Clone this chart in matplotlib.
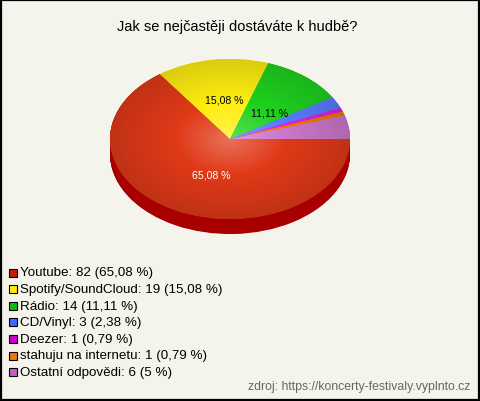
import numpy as np
import matplotlib
matplotlib.use("Agg")
import matplotlib.pyplot as plt
from matplotlib.colors import to_rgb
from matplotlib.patches import Rectangle

plt.rcParams["font.family"] = ["Liberation Sans", "DejaVu Sans"]

title = "Jak se nejčastěji dostáváte k hudbě?"
labels = ["Youtube", "Spotify/SoundCloud", "Rádio", "CD/Vinyl", "Deezer",
          "stahuju na internetu", "Ostatní odpovědi"]
counts = [82, 19, 14, 3, 1, 1, 6]
pct_text = ["65,08 %", "15,08 %", "11,11 %", "2,38 %", "0,79 %", "0,79 %", "5 %"]
top_colors = ["#E03A18", "#FFEE11", "#1FD21F", "#5A7CFF", "#DD22DD", "#EE7A00", "#CC77CC"]
side_colors = ["#A80000", "#C8B800", "#109010", "#3050C0", "#A010A0", "#B05800", "#995099"]
legend_colors = ["#C02000", "#FFEE00", "#10BB10", "#4466FF", "#CC00CC", "#EE7700", "#BB66BB"]
source = "zdroj: https://koncerty-festivaly.vyplnto.cz"

W, H = 480, 402
bg = "#F4F4EC"
fig = plt.figure(figsize=(W / 100, H / 100), dpi=100, facecolor=bg)

# pie axes: ellipse 240x160 px centred at (230,140), 15 px deep
depth = 15 / 80
ax = fig.add_axes([110 / W, 1 - 235 / H, 240 / W, 175 / H])
ax.axis("off")

def fix_limits():
    ax.set_xlim(-1, 1)
    ax.set_ylim(-1 - depth, 1)

# side wall: stacked copies of the pie in darker colours
for d in np.linspace(depth, 0.005, 30):
    ax.pie(counts, colors=side_colors, startangle=0, counterclock=False,
           center=(0, -d), radius=1, frame=False,
           wedgeprops=dict(linewidth=0))
fix_limits()

wedges, _ = ax.pie(counts, colors=top_colors, startangle=0, counterclock=False,
                   center=(0, 0), radius=1, frame=False,
                   wedgeprops=dict(linewidth=0))
fix_limits()

# radial shading on top face
n = 300
xx, yy = np.meshgrid(np.linspace(-1, 1, n), np.linspace(-1, 1, n))
rr = np.clip(np.sqrt(xx ** 2 + yy ** 2), 0, 1)
t = rr[..., None]
for w, c in zip(wedges, top_colors):
    base = np.array(to_rgb(c))
    light = base + (1 - base) * 0.28
    dark = base * 0.86
    img = np.where(t < 0.45, light + (base - light) * (t / 0.45),
                   base + (dark - base) * ((t - 0.45) / 0.55))
    im = ax.imshow(np.clip(img, 0, 1), extent=(-1, 1, -1, 1), origin="lower",
                   aspect="auto", zorder=2)
    im.set_clip_path(w)
fix_limits()

# percentage labels on the three biggest slices
label_pos = [(-0.16, -0.44), (-0.05, 0.49), (0.33, 0.33)]
label_colors = ["white", "black", "black"]
for i in range(3):
    ax.text(label_pos[i][0], label_pos[i][1], pct_text[i], ha="center", va="center",
            fontsize=7.6, color=label_colors[i], zorder=5)

# text and legend in pixel coordinates
lax = fig.add_axes([0, 0, 1, 1], facecolor="none")
lax.set_xlim(0, W)
lax.set_ylim(H, 0)
lax.axis("off")

lax.text(237, 27, title, ha="center", va="center", fontsize=10.5)

for i, (lab, cnt, pt, col) in enumerate(zip(labels, counts, pct_text, legend_colors)):
    y = 273.5 + i * 16.6
    lax.add_patch(Rectangle((9, y - 4), 8, 8, facecolor=col, edgecolor="black", lw=0.8))
    lax.text(20, y, f"{lab}: {cnt} ({pt})", va="center", ha="left", fontsize=9.6)

lax.text(470, 387, source, ha="right", va="center", fontsize=8.8, color="#666666")
lax.add_patch(Rectangle((0.5, 0.5), W - 1.5, H - 1.5, fill=False, edgecolor="black", lw=1.6))

fig.savefig("out.png", dpi=100, facecolor=bg)
